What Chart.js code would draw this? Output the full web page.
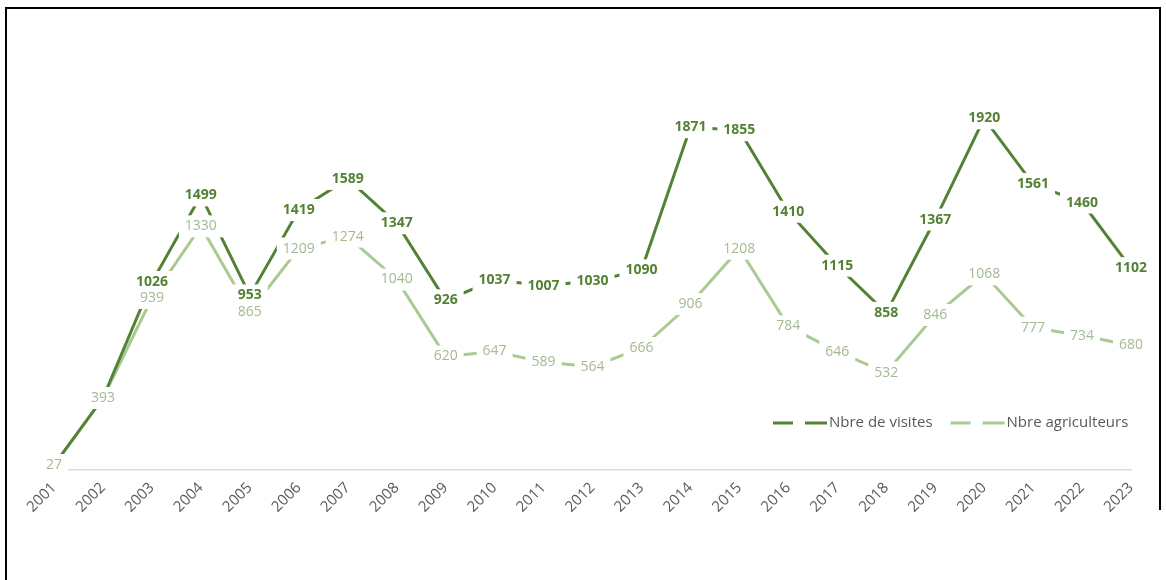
<!DOCTYPE html>
<html lang="fr">
<head>
    <meta charset="UTF-8">
    <title>Visites et agriculteurs</title>
    <script src="https://cdn.jsdelivr.net/npm/chart.js"></script>
    <style>
        html, body { margin: 0; padding: 0; background: #ffffff; }
        #chart { display: block; }
    </style>
</head>
<body>
<canvas id="chart" width="1166" height="580"></canvas>

<script>
    // Chart data
    const years = ['2001', '2002', '2003', '2004', '2005', '2006', '2007', '2008', '2009', '2010', '2011', '2012',
        '2013', '2014', '2015', '2016', '2017', '2018', '2019', '2020', '2021', '2022', '2023'];
    const visites = [27, 393, 1026, 1499, 953, 1419, 1589, 1347, 926, 1037, 1007, 1030,
        1090, 1871, 1855, 1410, 1115, 858, 1367, 1920, 1561, 1460, 1102];
    const agriculteurs = [27, 393, 939, 1330, 865, 1209, 1274, 1040, 620, 647, 589, 564,
        666, 906, 1208, 784, 646, 532, 846, 1068, 777, 734, 680];

    const darkGreen = '#548235';
    const lightGreen = '#A9CB93';
    const fontFamily = '"Open Sans", "DejaVu Sans", sans-serif';

    // value labels centred on each point, on a white box that cuts the line
    const valueLabels = {
        id: 'valueLabels',
        afterDatasetsDraw(chart) {
            const ctx = chart.ctx;
            ctx.save();
            ctx.textAlign = 'center';
            ctx.textBaseline = 'middle';
            chart.data.datasets.forEach((ds, di) => {
                const meta = chart.getDatasetMeta(di);
                ctx.font = (di === 0 ? 'bold ' : '') + '14px ' + fontFamily;
                meta.data.forEach((pt, i) => {
                    const txt = String(ds.data[i]);
                    const w = ctx.measureText(txt).width + 12;
                    ctx.fillStyle = '#ffffff';
                    ctx.fillRect(pt.x - w / 2, pt.y - 11, w, 22);
                    ctx.fillStyle = ds.labelColor;
                    ctx.fillText(txt, pt.x, pt.y);
                });
            });
            ctx.restore();
        }
    };

    // legend drawn inside the plot, with a broken line sample
    const insideLegend = {
        id: 'insideLegend',
        afterDraw(chart) {
            const ctx = chart.ctx;
            const y = 423;
            let x = 773;
            ctx.save();
            ctx.font = '15px ' + fontFamily;
            ctx.textBaseline = 'middle';
            ctx.lineWidth = 3;
            chart.data.datasets.forEach(ds => {
                ctx.strokeStyle = ds.borderColor;
                ctx.beginPath();
                ctx.moveTo(x, y); ctx.lineTo(x + 20, y);
                ctx.moveTo(x + 32, y); ctx.lineTo(x + 54, y);
                ctx.stroke();
                ctx.fillStyle = '#595959';
                ctx.fillText(ds.label, x + 56, y);
                x += 56 + ctx.measureText(ds.label).width + 18;
            });
            ctx.restore();
        }
    };

    // frame around the figure
    const frame = {
        id: 'frame',
        afterDraw(chart) {
            const ctx = chart.ctx;
            ctx.save();
            ctx.strokeStyle = '#000000';
            ctx.lineWidth = 2;
            ctx.beginPath();
            ctx.moveTo(6, 580);
            ctx.lineTo(6, 8);
            ctx.lineTo(1160, 8);
            ctx.lineTo(1160, 510);
            ctx.stroke();
            ctx.restore();
        }
    };

    new Chart(document.getElementById('chart'), {
        type: 'line',
        data: {
            labels: years,
            datasets: [
                {
                    label: 'Nbre de visites',
                    data: visites,
                    borderColor: darkGreen,
                    labelColor: darkGreen,
                    borderWidth: 3,
                    order: 1
                },
                {
                    label: 'Nbre agriculteurs',
                    data: agriculteurs,
                    borderColor: lightGreen,
                    labelColor: '#A3BA94',
                    borderWidth: 3,
                    order: 2
                }
            ]
        },
        options: {
            responsive: false,
            animation: false,
            devicePixelRatio: 1,
            layout: { padding: { left: 54, right: 35, top: 12, bottom: 55 } },
            elements: {
                point: { radius: 0 },
                line: { tension: 0, fill: false }
            },
            plugins: {
                legend: { display: false },
                tooltip: { enabled: false }
            },
            scales: {
                x: {
                    offset: false,
                    grid: { display: false, drawTicks: false },
                    border: { color: '#D9D9D9', width: 1.5 },
                    ticks: {
                        color: '#595959',
                        font: { family: fontFamily, size: 15 },
                        minRotation: 45,
                        maxRotation: 45,
                        padding: 9
                    }
                },
                y: {
                    display: false,
                    min: 0,
                    max: 2500
                }
            }
        },
        plugins: [valueLabels, insideLegend, frame]
    });
</script>
</body>
</html>
